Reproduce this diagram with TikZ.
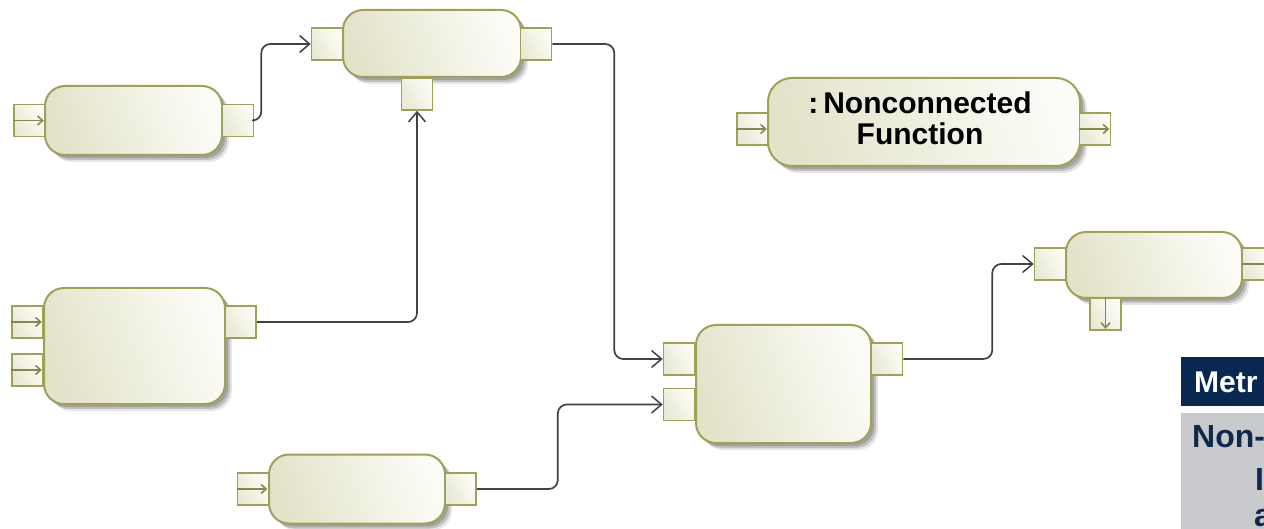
\documentclass[tikz,border=0pt]{standalone}
\usepackage{fontspec}
\setmainfont{Liberation Sans}
\usetikzlibrary{arrows.meta,shadows}

\definecolor{edgeol}{RGB}{160,160,90}
\definecolor{fillA}{RGB}{227,227,202}
\definecolor{fillB}{RGB}{252,252,247}
\definecolor{wirecol}{RGB}{66,66,66}
\definecolor{navy}{RGB}{8,40,82}
\definecolor{panel}{RGB}{201,202,206}
\definecolor{navytext}{RGB}{16,40,76}

\tikzset{
  fnbox/.style={draw=edgeol, line width=2pt, rounded corners=20pt,
    left color=fillA, right color=fillB, shading angle=110, inner sep=0pt,
    general shadow={shadow xshift=7pt, shadow yshift=-7pt, fill=black, opacity=.10},
    general shadow={shadow xshift=5pt, shadow yshift=-5pt, fill=black, opacity=.16},
    general shadow={shadow xshift=3pt, shadow yshift=-3pt, fill=black, opacity=.16}},
  portbox/.style={draw=edgeol, line width=1.6pt, left color=fillA!80!white,
    right color=fillB, shading angle=120, inner sep=0pt,
    minimum width=31pt, minimum height=32pt},
  glyph/.style={draw=edgeol!85!black, line width=1.4pt,
    -{Straight Barb[length=5pt,width=9pt,line width=1.6pt]}, shorten >=2pt},
  conn/.style={draw=wirecol, line width=1.7pt, rounded corners=9pt,
    -{Straight Barb[length=10pt,width=17pt,line width=1.5pt]}},
  lbl/.style={font=\fontsize{30}{31}\selectfont\bfseries, text=black, align=center},
}

\begin{document}
\begin{tikzpicture}[x=1pt, y=-1pt]
\useasboundingbox (0,0) rectangle (1264,529);
\clip (0,0) rectangle (1264,529);

% function boxes
\node[fnbox, minimum width=177pt, minimum height=69pt] (A) at (133.5,120.5) {};
\node[fnbox, minimum width=178pt, minimum height=67pt] (B) at (432,43.5) {};
\node[fnbox, minimum width=181pt, minimum height=116pt] (C) at (134.5,346) {};
\node[fnbox, minimum width=176pt, minimum height=69pt] (D) at (357,489) {};
\node[fnbox, minimum width=175pt, minimum height=118pt] (E) at (783.5,384) {};
\node[fnbox, minimum width=176pt, minimum height=66pt] (F) at (1154,265) {};
\node[fnbox, minimum width=312pt, minimum height=88pt, rounded corners=24pt] (G) at (924,122) {};
\node[lbl] (Gtxt) at (920,118) {:\,Nonconnected\\Function};

% ports
\node[portbox] (Ain) at (29.5,120.5) {};
\node[portbox] (Aout) at (238,120.5) {};
\node[portbox] (Bin) at (327,44) {};
\node[portbox] (Bout) at (536,44) {};
\node[portbox] (Bbot) at (417,94) {};
\node[portbox] (Cin1) at (27.5,322) {};
\node[portbox] (Cin2) at (27.5,370) {};
\node[portbox] (Cout) at (240.5,322) {};
\node[portbox] (Din) at (253,489) {};
\node[portbox] (Dout) at (460.5,489) {};
\node[portbox] (Ein1) at (679,359) {};
\node[portbox] (Ein2) at (679,404.5) {};
\node[portbox] (Eout) at (887,359) {};
\node[portbox] (Fin) at (1050,264) {};
\node[portbox] (Fout) at (1258,264) {};
\node[portbox] (Fbot) at (1105.5,314) {};
\node[portbox] (Gin) at (752.5,129) {};
\node[portbox] (Gout) at (1095,129) {};

% direction marks on unconnected ports
\draw[glyph] (Ain.west) -- (Ain.east);
\draw[glyph] (Cin1.west) -- (Cin1.east);
\draw[glyph] (Cin2.west) -- (Cin2.east);
\draw[glyph] (Din.west) -- (Din.east);
\draw[glyph] (Gin.west) -- (Gin.east);
\draw[glyph] (Gout.west) -- (Gout.east);
\draw[glyph] (Fout.west) -- (Fout.east);
\draw[glyph] (Fbot.north) -- (Fbot.south);

% flows
\draw[conn] (Aout.east) -- ++(7,0) |- (Bin.west);
\draw[conn] (Cout.east) -| (Bbot.south);
\draw[conn] (Bout.east) -- ++(62,0) |- (Ein1.west);
\draw[conn] (Dout.east) -- ++(81,0) |- (Ein2.west);
\draw[conn] (Eout.east) -- ++(89,0) |- (Fin.west);

% metrics table
\node[anchor=north west, fill=navy, minimum width=95pt, minimum height=49pt,
      inner sep=0pt] (hdr) at (1181,357) {};
\node[anchor=west, text=white, font=\fontsize{30}{32}\selectfont\bfseries,
      inner sep=0pt] (hdrtxt) at (1194,382) {Metr};
\node[anchor=north west, fill=panel, minimum width=95pt, minimum height=120pt,
      inner sep=0pt] (pan) at (1181,413) {};
\node[anchor=west, text=navytext, font=\fontsize{32}{34}\selectfont\bfseries,
      inner sep=0pt] (r1) at (1192,437) {Non-};
\node[anchor=west, text=navytext, font=\fontsize{32}{34}\selectfont\bfseries,
      inner sep=0pt] (r2) at (1255,479) {I};
\node[anchor=west, text=navytext, font=\fontsize{32}{34}\selectfont\bfseries,
      inner sep=0pt] (r3) at (1254,518) {a};
\end{tikzpicture}
\end{document}
